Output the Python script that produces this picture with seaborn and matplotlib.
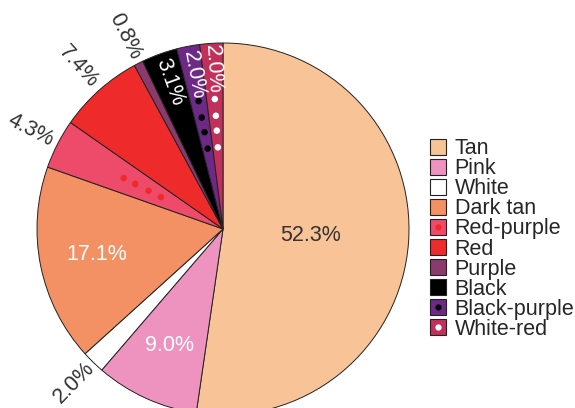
import numpy as np
import pandas as pd
import matplotlib
matplotlib.use("Agg")
import matplotlib.pyplot as plt
import seaborn as sns
from matplotlib.patches import Patch
from matplotlib.lines import Line2D
from matplotlib.legend_handler import HandlerTuple

# --- dados ---
categorias = ["Tan", "Pink", "White", "Dark tan", "Red-purple", "Red",
              "Purple", "Black", "Black-purple", "White-red"]
percentuais = [52.3, 9.0, 2.0, 17.1, 4.3, 7.4, 0.8, 3.1, 2.0, 2.0]
cores = ["#F8C396", "#EE93BF", "#FFFFFF", "#F39064", "#EE4A6A", "#EE2A2A",
         "#8B3A6C", "#000000", "#6E2886", "#C0305A"]
cor_pontos = {"Red-purple": "#EE2A2A", "Black-purple": "#000000", "White-red": "#FFFFFF"}

sns.set_theme(style="white")
plt.rcParams["font.family"] = ["Liberation Sans", "DejaVu Sans"]

fig = plt.figure(figsize=(5.75, 4.08), dpi=100)
R = 186
cx, cy = 223, 408 - 229
ax = fig.add_axes([(cx - R) / 575, (cy - R) / 408, 2 * R / 575, 2 * R / 408])

wedges, _ = ax.pie(percentuais, colors=cores, startangle=90, counterclock=False,
                   wedgeprops=dict(edgecolor="#222222", linewidth=0.7))
ax.set_xlim(-1, 1)
ax.set_ylim(-1, 1)
ax.set_aspect("equal")
ax.axis("off")

# angulo medio de cada fatia
bordas = 90 - 360 * np.cumsum([0] + percentuais) / 100
meio = (bordas[:-1] + bordas[1:]) / 2

# rótulos: (distancia, cor, rotacionado?)
estilo = {
    "Tan": (0.47, "#333333", False),
    "Pink": (0.69, "white", False),
    "White": (1.15, "#333333", True),
    "Dark tan": (0.69, "white", False),
    "Red-purple": (1.16, "#333333", True),
    "Red": (1.17, "#333333", True),
    "Purple": (1.16, "#333333", True),
    "Black": (0.84, "white", True),
    "Black-purple": (0.84, "white", True),
    "White-red": (0.86, "white", True),
}
for cat, pct, ang in zip(categorias, percentuais, meio):
    d, c, rot = estilo[cat]
    t = np.deg2rad(ang)
    ax.text(d * np.cos(t), d * np.sin(t), f"{pct:.1f}%", color=c, fontsize=15.5,
            ha="center", va="center", rotation=(ang + 180) if rot else 0,
            rotation_mode="anchor", clip_on=False)

# pontinhos dentro das fatias com padrão
linhas = []
for cat in cor_pontos:
    i = categorias.index(cat)
    t = np.deg2rad(meio[i])
    raios = [0.375, 0.45, 0.53, 0.6] if cat == "Red-purple" else [0.44, 0.53, 0.61, 0.70]
    for r in raios:
        linhas.append({"x": r * np.cos(t), "y": r * np.sin(t), "cat": cat})
pontos = pd.DataFrame(linhas)
sns.scatterplot(data=pontos, x="x", y="y", hue="cat", palette=cor_pontos,
                s=22, linewidth=0, legend=False, ax=ax)
ax.set_xlabel("")
ax.set_ylabel("")

# legenda
handles = []
for cat, cor in zip(categorias, cores):
    p = Patch(facecolor=cor, edgecolor="#222222", linewidth=0.8)
    if cat in cor_pontos:
        m = Line2D([], [], marker="o", linestyle="", markersize=4.5,
                   markerfacecolor=cor_pontos[cat], markeredgewidth=0)
        handles.append((p, m))
    else:
        handles.append(p)
fig.legend(handles, categorias, loc="center left", bbox_to_anchor=(430 / 575, 1 - 239 / 408),
           frameon=False, fontsize=15.5, labelspacing=-0.045, handlelength=0.74,
           handleheight=0.74, handletextpad=0.4, borderpad=0, borderaxespad=0,
           handler_map={tuple: HandlerTuple(ndivide=1, pad=0)})

fig.savefig("out.png", dpi=100)
